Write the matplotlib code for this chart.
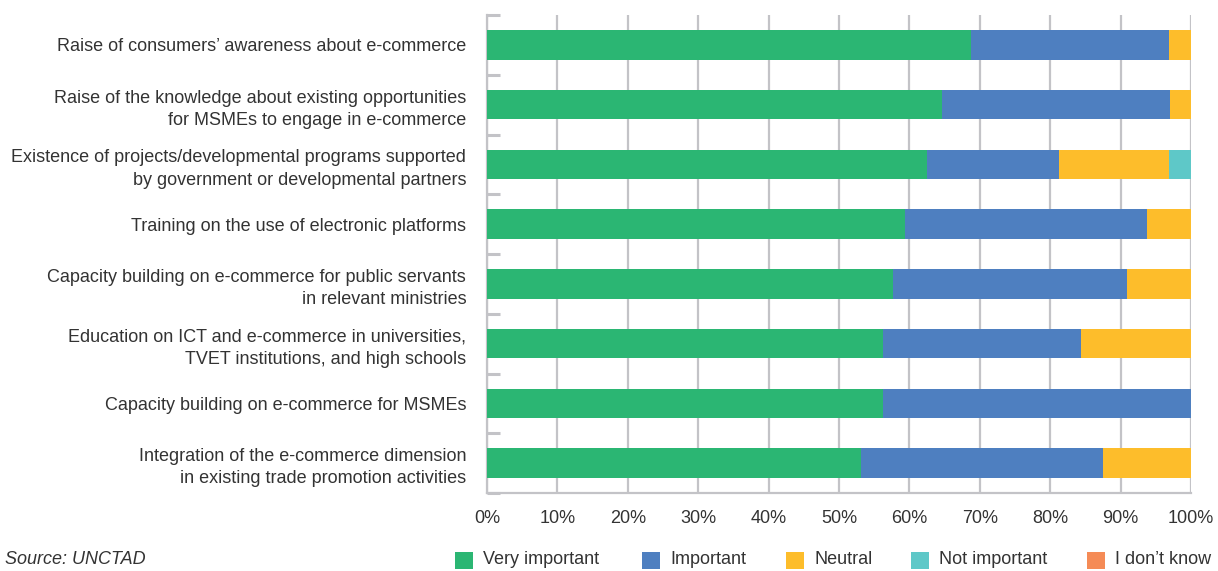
import numpy as np
import matplotlib
matplotlib.use("Agg")
import matplotlib.pyplot as plt
from matplotlib.patches import Rectangle
from matplotlib.ticker import FixedLocator, PercentFormatter

plt.rcParams['font.family'] = ['Liberation Sans', 'DejaVu Sans']

# Survey items, top to bottom
categories = [
    "Raise of consumers\u2019 awareness about e-commerce",
    "Raise of the knowledge about existing opportunities\nfor MSMEs to engage in e-commerce",
    "Existence of projects/developmental programs supported\nby government or developmental partners",
    "Training on the use of electronic platforms",
    "Capacity building on e-commerce for public servants\nin relevant ministries",
    "Education on ICT and e-commerce in universities,\nTVET institutions, and high schools",
    "Capacity building on e-commerce for MSMEs",
    "Integration of the e-commerce dimension\nin existing trade promotion activities",
]

# Share of respondents (%)
very_important = [68.8, 64.7, 62.5, 59.4, 57.6, 56.3, 56.3, 53.1]
important = [28.1, 32.3, 18.8, 34.4, 33.3, 28.1, 43.7, 34.4]
neutral = [3.1, 3.0, 15.6, 6.2, 9.1, 15.6, 0.0, 12.5]
not_important = [0.0, 0.0, 3.1, 0.0, 0.0, 0.0, 0.0, 0.0]
dont_know = [0.0, 0.0, 0.0, 0.0, 0.0, 0.0, 0.0, 0.0]

series = [
    ("Very important", very_important, "#2bb673"),
    ("Important", important, "#4e7fc0"),
    ("Neutral", neutral, "#fdbd2b"),
    ("Not important", not_important, "#5ec8c8"),
    ("I don\u2019t know", dont_know, "#f58b56"),
]

grid_col = "#c3c3c7"
text_col = "#333333"
W, H = 1218, 571

fig = plt.figure(figsize=(W / 100, H / 100), dpi=100)
ax = fig.add_axes([487 / W, 78 / H, 704 / W, 478 / H])

y = np.arange(len(categories))
left = np.zeros(len(categories))
for name, vals, col in series:
    vals = np.array(vals)
    ax.barh(y, vals, left=left, height=0.49, color=col, label=name, zorder=3)
    left += vals

ax.set_xlim(0, 100)
ax.set_ylim(len(categories) - 0.5, -0.5)

ax.xaxis.set_major_locator(FixedLocator(np.arange(0, 101, 10)))
ax.xaxis.set_major_formatter(PercentFormatter(decimals=0))
ax.grid(axis="x", color=grid_col, linewidth=1.6, zorder=0)
ax.tick_params(axis="x", length=0, pad=12, labelsize=13, labelcolor=text_col)

ax.set_yticks(y)
ax.set_yticklabels(categories, fontsize=13, color=text_col, linespacing=1.4)
ax.tick_params(axis="y", which="major", length=0, pad=15)
ax.yaxis.set_minor_locator(FixedLocator(np.arange(-0.5, len(categories), 1)))
ax.tick_params(axis="y", which="minor", direction="in", length=9,
               width=2.2, color=grid_col)

for side in ("top", "right"):
    ax.spines[side].set_visible(False)
for side in ("left", "bottom"):
    ax.spines[side].set_color(grid_col)
    ax.spines[side].set_linewidth(1.6)

# legend row along the bottom, laid out by hand
legend_x = [455, 642, 786, 911, 1087]
legend_y = 11
for (name, _, col), lx in zip(series, legend_x):
    fig.patches.append(Rectangle((lx / W, (legend_y - 8.5) / H), 18 / W, 17 / H,
                                 transform=fig.transFigure, facecolor=col,
                                 edgecolor="none"))
    fig.text((lx + 28) / W, legend_y / H, name, fontsize=13, color=text_col,
             va="center", ha="left")

fig.text(5 / W, legend_y / H, "Source: UNCTAD", fontsize=13, style="italic",
         color=text_col, va="center", ha="left")

fig.savefig("out.png", dpi=100)
